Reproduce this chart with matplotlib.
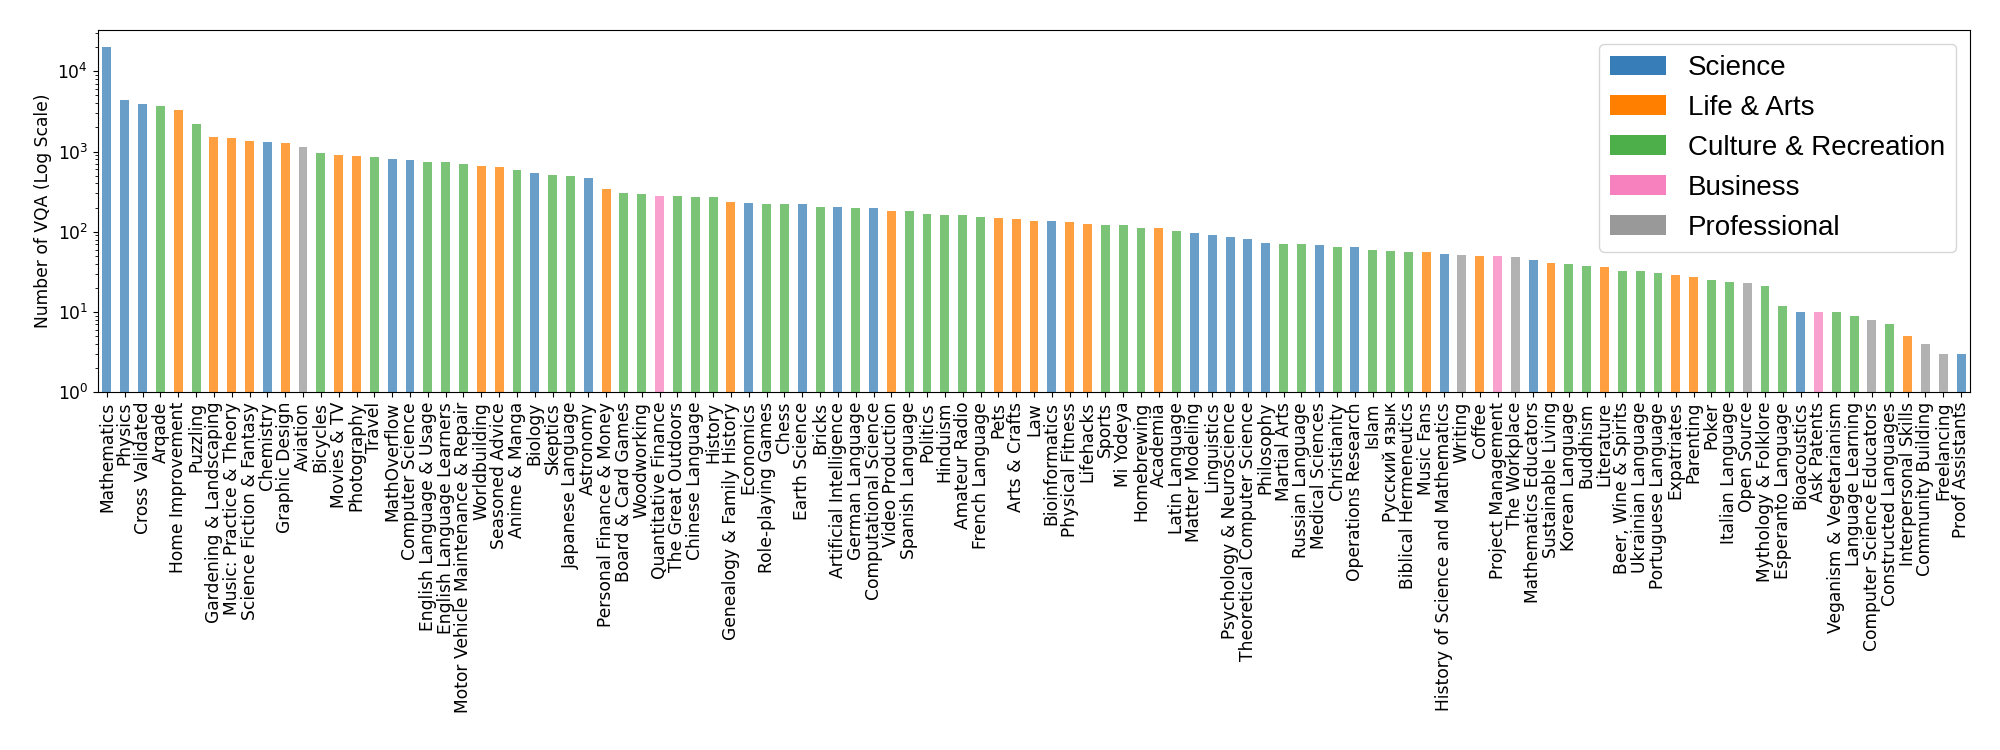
#!/usr/bin/env python3
"""VQA count per StackExchange site, coloured by site category (log scale)."""
import matplotlib

matplotlib.use("Agg")
import matplotlib.pyplot as plt
from matplotlib.patches import Patch

SITES = [
    "Mathematics", "Physics", "Cross Validated", "Arqade", "Home Improvement",
    "Puzzling", "Gardening & Landscaping", "Music: Practice & Theory",
    "Science Fiction & Fantasy", "Chemistry", "Graphic Design", "Aviation",
    "Bicycles", "Movies & TV", "Photography", "Travel", "MathOverflow",
    "Computer Science", "English Language & Usage", "English Language Learners",
    "Motor Vehicle Maintenance & Repair", "Worldbuilding", "Seasoned Advice",
    "Anime & Manga", "Biology", "Skeptics", "Japanese Language", "Astronomy",
    "Personal Finance & Money", "Board & Card Games", "Woodworking",
    "Quantitative Finance", "The Great Outdoors", "Chinese Language", "History",
    "Genealogy & Family History", "Economics", "Role-playing Games", "Chess",
    "Earth Science", "Bricks", "Artificial Intelligence", "German Language",
    "Computational Science", "Video Production", "Spanish Language", "Politics",
    "Hinduism", "Amateur Radio", "French Language", "Pets", "Arts & Crafts", "Law",
    "Bioinformatics", "Physical Fitness", "Lifehacks", "Sports", "Mi Yodeya",
    "Homebrewing", "Academia", "Latin Language", "Matter Modeling", "Linguistics",
    "Psychology & Neuroscience", "Theoretical Computer Science", "Philosophy",
    "Martial Arts", "Russian Language", "Medical Sciences", "Christianity",
    "Operations Research", "Islam", "Русский язык", "Biblical Hermeneutics",
    "Music Fans", "History of Science and Mathematics", "Writing", "Coffee",
    "Project Management", "The Workplace", "Mathematics Educators",
    "Sustainable Living", "Korean Language", "Buddhism", "Literature",
    "Beer, Wine & Spirits", "Ukrainian Language", "Portuguese Language",
    "Expatriates", "Parenting", "Poker", "Italian Language", "Open Source",
    "Mythology & Folklore", "Esperanto Language", "Bioacoustics", "Ask Patents",
    "Veganism & Vegetarianism", "Language Learning", "Computer Science Educators",
    "Constructed Languages", "Interpersonal Skills", "Community Building",
    "Freelancing", "Proof Assistants",
]

COUNTS = [
    20000, 4340, 3870, 3650, 3280, 2220, 1510, 1460, 1360, 1300, 1270, 1140,
    950, 893, 884, 851, 811, 781, 744, 744, 690, 652, 634, 586, 543, 504, 498,
    462, 346, 300, 294, 283, 280, 270, 268, 232, 229, 225, 221, 219, 205, 203,
    199, 195, 184, 179, 167, 161, 161, 152, 149, 146, 137, 137, 132, 124, 120,
    120, 113, 113, 102, 97, 92, 86, 81, 73, 71, 71, 69, 65, 64, 60, 57, 56, 56,
    53, 52, 50, 50, 48, 44, 41, 40, 37, 36, 32, 32, 31, 29, 27, 25, 24, 23, 21,
    12, 10, 10, 10, 9, 8, 7, 5, 4, 3, 3,
]

# S = Science, L = Life & Arts, C = Culture & Recreation, B = Business, P = Professional
GROUPS = list(
    "SSSCLCLLLSLP"      # Mathematics .. Aviation
    "CLLCSSCCCLL"       # Bicycles .. Seasoned Advice
    "CSCCSLCCBCCC"      # Anime & Manga .. History
    "LSCCSCSCSL"        # Genealogy .. Video Production
    "CCCCCLLLSLLCCCL"   # Spanish .. Academia
    "CSSSSSCCSCSCCC"    # Latin .. Biblical Hermeneutics
    "LSPLBPSLCCL"       # Music Fans .. Literature
    "CCCLLCCPCCSBCCPCLPPS"  # Beer .. Proof Assistants
)

CATEGORIES = ["Science", "Life & Arts", "Culture & Recreation", "Business", "Professional"]
CAT_CODES = ["S", "L", "C", "B", "P"]
CAT_COLORS = ["#377eb8", "#ff7f00", "#4daf4a", "#f781bf", "#999999"]


def main():
    color_of = dict(zip(CAT_CODES, CAT_COLORS))
    colors = [color_of[g] for g in GROUPS]

    fig, ax = plt.subplots(figsize=(20, 7.5), dpi=100)
    fig.subplots_adjust(left=0.049, right=0.985, top=0.96, bottom=0.477)

    xpos = range(len(SITES))
    ax.bar(xpos, COUNTS, width=0.5, color=colors, alpha=0.75)
    ax.set_yscale("log")
    ax.set_ylim(1, 32700)
    ax.set_xlim(-0.5, len(SITES) - 0.5)

    ax.set_xticks(list(xpos))
    ax.set_xticklabels(SITES, rotation=90, fontsize=12.3)
    ax.tick_params(axis="y", labelsize=12.3)
    ax.set_ylabel("Number of VQA (Log Scale)", fontsize=12.3)

    handles = [Patch(facecolor=c, label=n) for n, c in zip(CATEGORIES, CAT_COLORS)]
    ax.legend(handles=handles, loc="upper right",
              prop={"family": "Liberation Sans", "size": 20})

    fig.savefig("out.png", dpi=100)


if __name__ == "__main__":
    main()
